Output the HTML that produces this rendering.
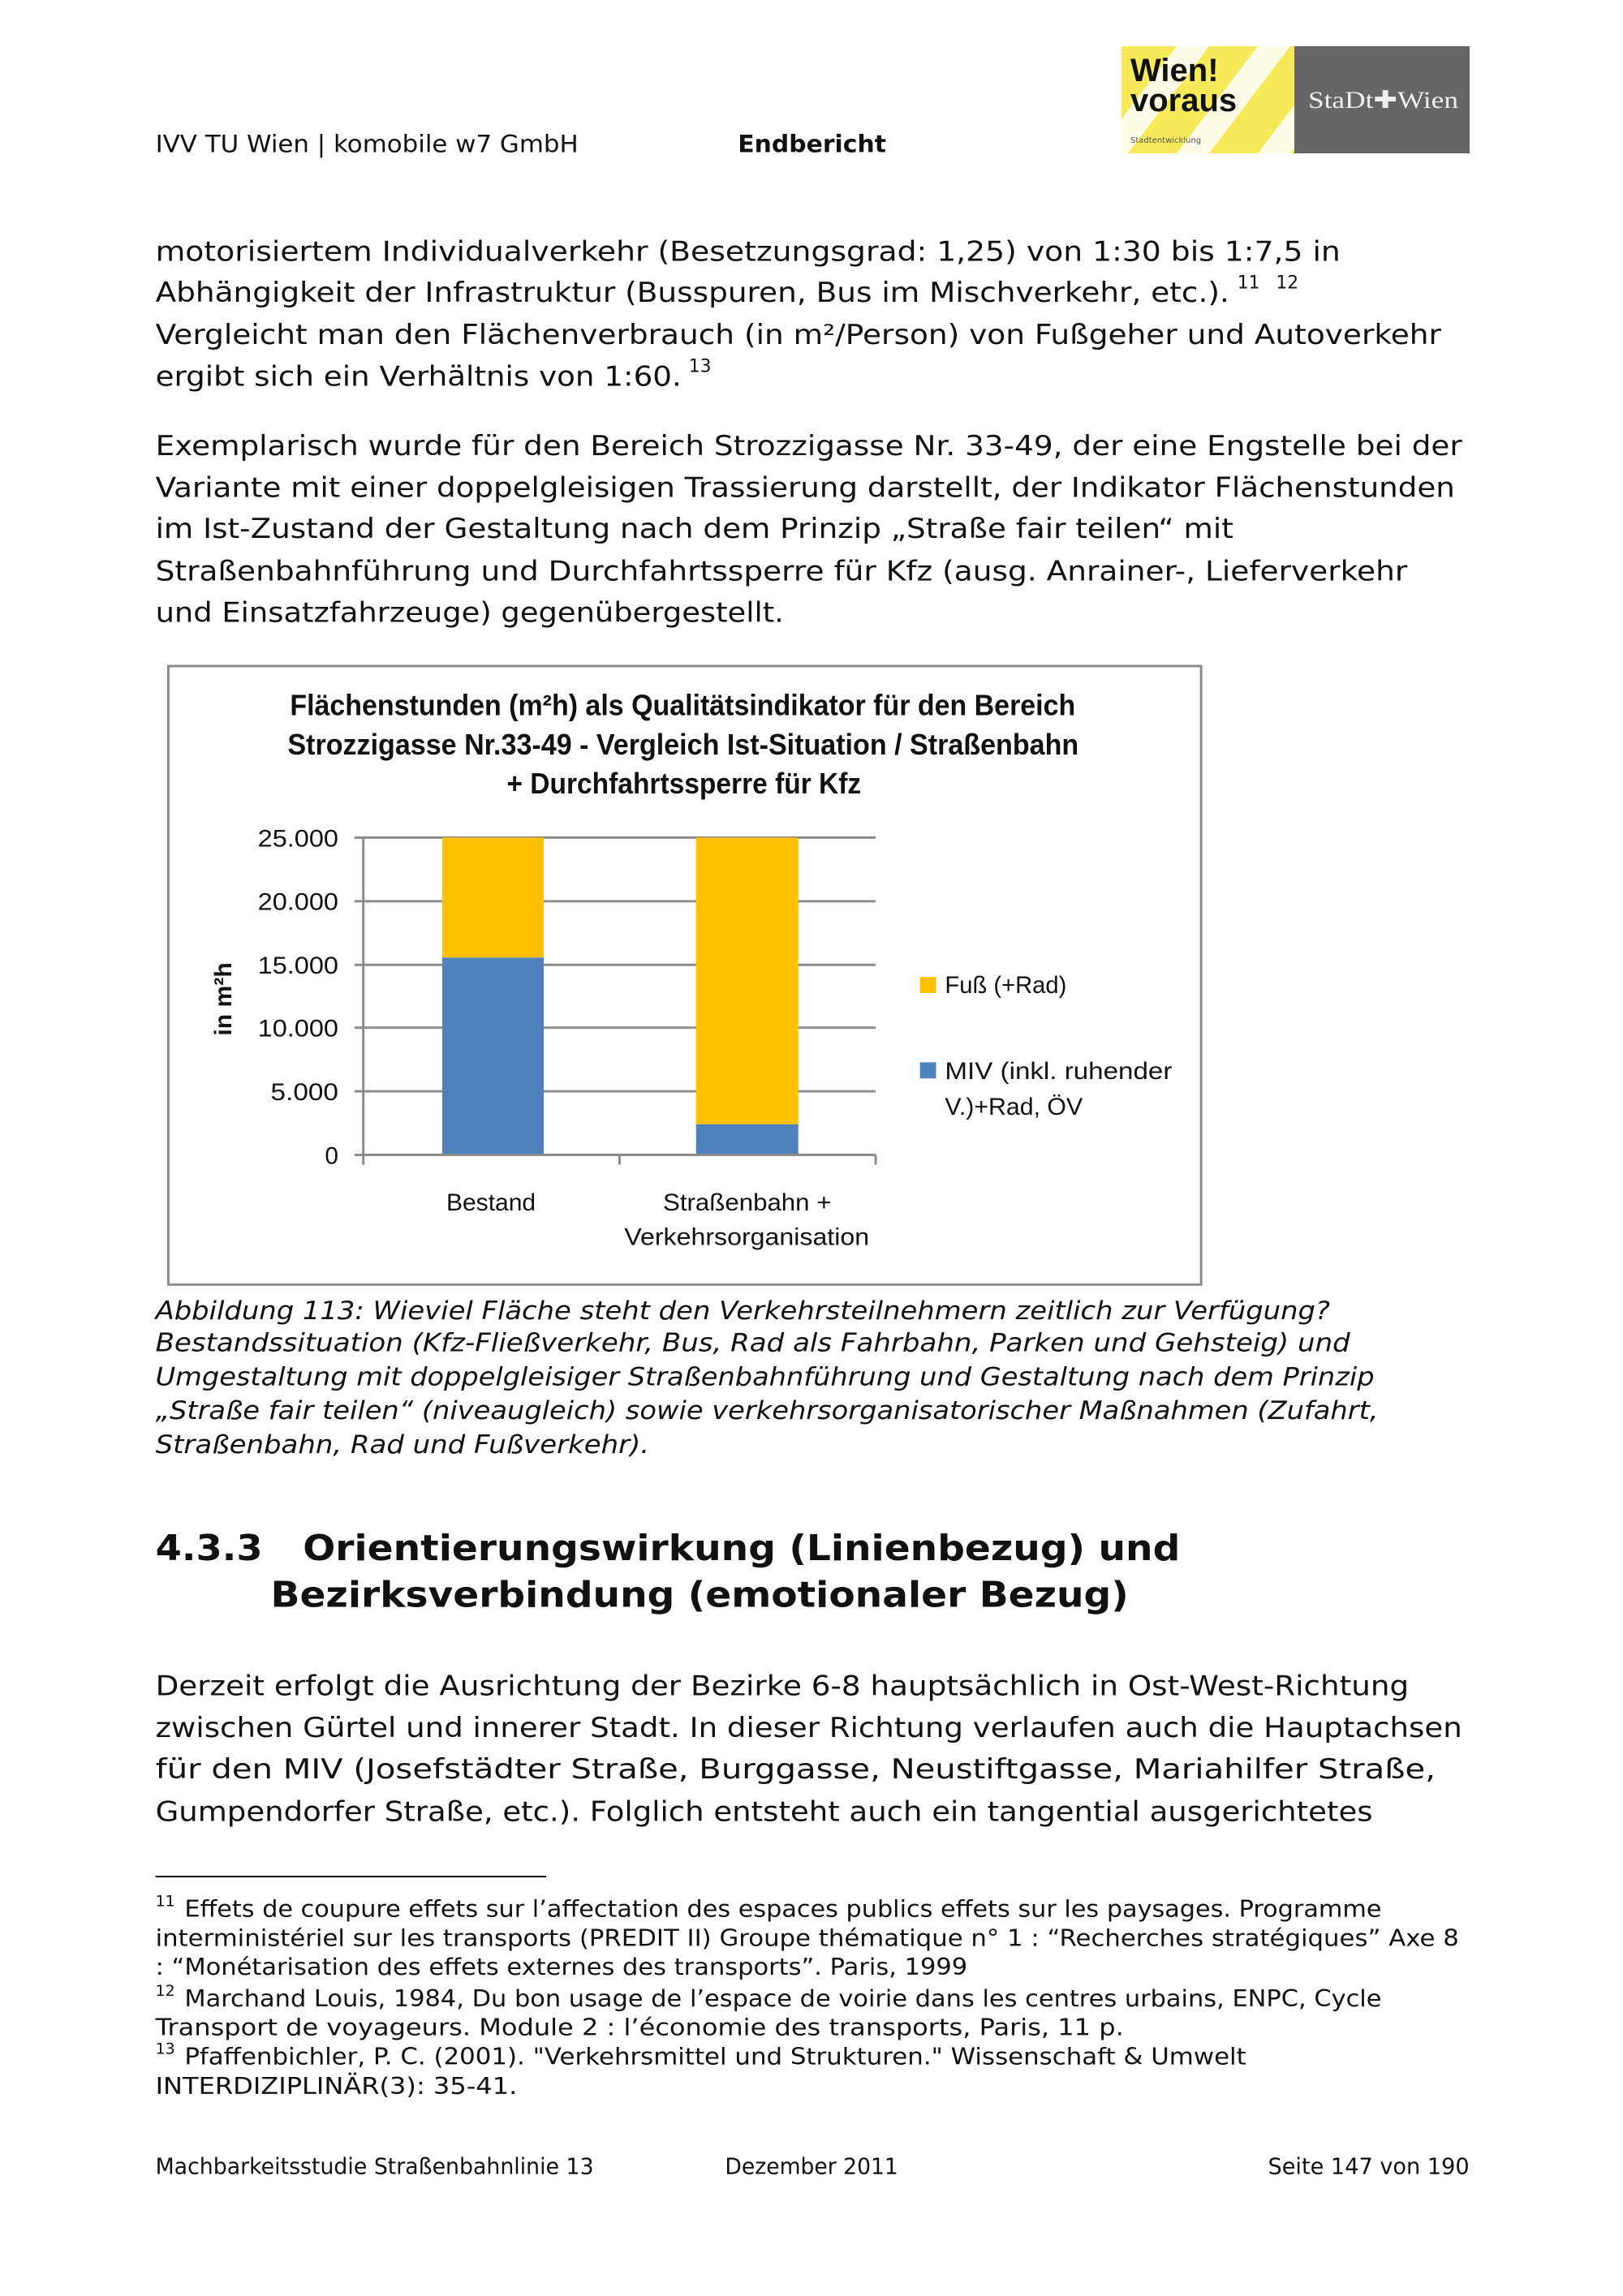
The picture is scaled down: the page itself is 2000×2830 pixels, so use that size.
<!DOCTYPE html>
<html><head><meta charset="utf-8"><style>html,body{margin:0;padding:0;background:#fff}svg{display:block}</style></head><body>
<svg width="2000" height="2830" viewBox="0 0 2000 2830" xmlns="http://www.w3.org/2000/svg" font-family="'DejaVu Sans','Liberation Sans',sans-serif" fill="#111">
<defs><clipPath id="lc"><rect x="1382" y="57" width="213" height="132"/></clipPath></defs>
<!-- logo (unscaled, absolute coords) -->
<rect x="1382" y="57" width="213" height="132" fill="#f7ea5a"/>
<g clip-path="url(#lc)" fill="#fdfbe6">
<polygon points="1450,189 1490,189 1590,57 1550,57"/><polygon points="1350,189 1390,189 1490,57 1450,57"/><polygon points="1550,189 1590,189 1690,57 1650,57"/>
</g>
<text x="1393" y="100" font-size="40" font-weight="bold" font-family="'Liberation Sans',sans-serif">Wien!</text>
<text x="1393" y="137" font-size="40" font-weight="bold" font-family="'Liberation Sans',sans-serif">voraus</text>
<text x="1393" y="176" font-size="10" fill="#555">Stadtentwicklung</text>
<rect x="1595" y="57" width="216" height="132" fill="#666"/>
<text x="1612" y="133" font-size="30" fill="#eee" font-family="'Liberation Serif',serif" textLength="185" lengthAdjust="spacingAndGlyphs">StaDt✚Wien</text>
<g transform="scale(0.9927)">
<!-- header -->
<text x="193" y="189" font-size="30" textLength="525" lengthAdjust="spacingAndGlyphs">IVV TU Wien | komobile w7 GmbH</text>
<text x="916" y="189" font-size="30" font-weight="bold" textLength="184" lengthAdjust="spacingAndGlyphs">Endbericht</text>
<!-- body 1 -->
<g font-size="34">
<text x="193" y="324" textLength="1471" lengthAdjust="spacingAndGlyphs">motorisiertem Individualverkehr (Besetzungsgrad: 1,25) von 1:30 bis 1:7,5 in</text>
<text x="193" y="375" textLength="1333" lengthAdjust="spacingAndGlyphs">Abhängigkeit der Infrastruktur (Busspuren, Bus im Mischverkehr, etc.).</text>
<text x="1536" y="358" font-size="22">11</text><text x="1584" y="358" font-size="22">12</text>
<text x="193" y="427" textLength="1596" lengthAdjust="spacingAndGlyphs">Vergleicht man den Flächenverbrauch (in m²/Person) von Fußgeher und Autoverkehr</text>
<text x="193" y="479" textLength="653" lengthAdjust="spacingAndGlyphs">ergibt sich ein Verhältnis von 1:60.</text>
<text x="855" y="462" font-size="22">13</text>
<text x="193" y="565" textLength="1622" lengthAdjust="spacingAndGlyphs">Exemplarisch wurde für den Bereich Strozzigasse Nr. 33-49, der eine Engstelle bei der</text>
<text x="193" y="617" textLength="1613" lengthAdjust="spacingAndGlyphs">Variante mit einer doppelgleisigen Trassierung darstellt, der Indikator Flächenstunden</text>
<text x="193" y="668" textLength="1338" lengthAdjust="spacingAndGlyphs">im Ist-Zustand der Gestaltung nach dem Prinzip „Straße fair teilen“ mit</text>
<text x="193" y="721" textLength="1554" lengthAdjust="spacingAndGlyphs">Straßenbahnführung und Durchfahrtssperre für Kfz (ausg. Anrainer-, Lieferverkehr</text>
<text x="193" y="772" textLength="780" lengthAdjust="spacingAndGlyphs">und Einsatzfahrzeuge) gegenübergestellt.</text>
</g>
<!-- chart -->
<rect x="209" y="827" width="1282" height="768" fill="#fff" stroke="#8c8c8c" stroke-width="3"/>
<g font-family="'Liberation Sans',sans-serif">
<g font-weight="bold" font-size="36">
<text x="360" y="888" textLength="975" lengthAdjust="spacingAndGlyphs">Flächenstunden (m²h) als Qualitätsindikator für den Bereich</text>
<text x="357" y="937" textLength="982" lengthAdjust="spacingAndGlyphs">Strozzigasse Nr.33-49 - Vergleich Ist-Situation /  Straßenbahn</text>
<text x="629" y="985" textLength="440" lengthAdjust="spacingAndGlyphs">+ Durchfahrtssperre für Kfz</text>
</g>
<g stroke="#8c8c8c" stroke-width="3">
<line x1="451" y1="1040" x2="1087" y2="1040"/><line x1="451" y1="1119" x2="1087" y2="1119"/><line x1="451" y1="1198" x2="1087" y2="1198"/><line x1="451" y1="1276" x2="1087" y2="1276"/><line x1="451" y1="1355" x2="1087" y2="1355"/>
</g>
<rect x="549" y="1040" width="126" height="149" fill="#ffc000"/>
<rect x="549" y="1189" width="126" height="245" fill="#4f81bd"/>
<rect x="864" y="1040" width="127" height="356" fill="#ffc000"/>
<rect x="864" y="1396" width="127" height="38" fill="#4f81bd"/>
<g stroke="#8c8c8c" stroke-width="3">
<line x1="451" y1="1040" x2="451" y2="1446"/><line x1="440" y1="1434" x2="1087" y2="1434"/>
<line x1="769" y1="1434" x2="769" y2="1446"/><line x1="1087" y1="1434" x2="1087" y2="1446"/>
<line x1="440" y1="1040" x2="451" y2="1040"/><line x1="440" y1="1119" x2="451" y2="1119"/><line x1="440" y1="1198" x2="451" y2="1198"/><line x1="440" y1="1276" x2="451" y2="1276"/><line x1="440" y1="1355" x2="451" y2="1355"/>
</g>
<g font-size="30" text-anchor="end">
<text x="420" y="1051" textLength="100" lengthAdjust="spacingAndGlyphs">25.000</text>
<text x="420" y="1130" textLength="100" lengthAdjust="spacingAndGlyphs">20.000</text>
<text x="420" y="1209" textLength="100" lengthAdjust="spacingAndGlyphs">15.000</text>
<text x="420" y="1287" textLength="100" lengthAdjust="spacingAndGlyphs">10.000</text>
<text x="420" y="1366" textLength="84" lengthAdjust="spacingAndGlyphs">5.000</text>
<text x="420" y="1445">0</text>
</g>
<text transform="translate(287,1286) rotate(-90)" font-size="30" font-weight="bold" textLength="91" lengthAdjust="spacingAndGlyphs">in m²h</text>
<g font-size="30">
<text x="554" y="1503" textLength="111" lengthAdjust="spacingAndGlyphs">Bestand</text>
<text x="823" y="1503" textLength="209" lengthAdjust="spacingAndGlyphs">Straßenbahn +</text>
<text x="775" y="1546" textLength="304" lengthAdjust="spacingAndGlyphs">Verkehrsorganisation</text>
<rect x="1142" y="1213" width="20" height="20" fill="#ffc000"/>
<text x="1173" y="1233" textLength="151" lengthAdjust="spacingAndGlyphs">Fuß (+Rad)</text>
<rect x="1142" y="1319" width="20" height="20" fill="#4f81bd"/>
<text x="1173" y="1340" textLength="282" lengthAdjust="spacingAndGlyphs">MIV (inkl. ruhender</text>
<text x="1173" y="1384" textLength="171" lengthAdjust="spacingAndGlyphs">V.)+Rad, ÖV</text>
</g>
</g>
<!-- caption -->
<g font-size="31" font-style="italic">
<text x="193" y="1638" textLength="1458" lengthAdjust="spacingAndGlyphs">Abbildung 113: Wieviel Fläche steht den Verkehrsteilnehmern zeitlich zur Verfügung?</text>
<text x="193" y="1678" textLength="1483" lengthAdjust="spacingAndGlyphs">Bestandssituation (Kfz-Fließverkehr, Bus, Rad als Fahrbahn, Parken und Gehsteig) und</text>
<text x="193" y="1720" textLength="1513" lengthAdjust="spacingAndGlyphs">Umgestaltung mit doppelgleisiger Straßenbahnführung und Gestaltung nach dem Prinzip</text>
<text x="193" y="1762" textLength="1518" lengthAdjust="spacingAndGlyphs">„Straße fair teilen“ (niveaugleich) sowie verkehrsorganisatorischer Maßnahmen (Zufahrt,</text>
<text x="193" y="1804" textLength="613" lengthAdjust="spacingAndGlyphs">Straßenbahn, Rad und Fußverkehr).</text>
</g>
<!-- heading -->
<g font-size="44" font-weight="bold">
<text x="193" y="1937" textLength="133" lengthAdjust="spacingAndGlyphs">4.3.3</text>
<text x="376" y="1937" textLength="1089" lengthAdjust="spacingAndGlyphs">Orientierungswirkung (Linienbezug) und</text>
<text x="336" y="1995" textLength="1065" lengthAdjust="spacingAndGlyphs">Bezirksverbindung (emotionaler Bezug)</text>
</g>
<g font-size="34">
<text x="193" y="2105" textLength="1556" lengthAdjust="spacingAndGlyphs">Derzeit erfolgt die Ausrichtung der Bezirke 6-8 hauptsächlich in Ost-West-Richtung</text>
<text x="193" y="2157" textLength="1622" lengthAdjust="spacingAndGlyphs">zwischen Gürtel und innerer Stadt. In dieser Richtung verlaufen auch die Hauptachsen</text>
<text x="193" y="2208" textLength="1589" lengthAdjust="spacingAndGlyphs">für den MIV (Josefstädter Straße, Burggasse, Neustiftgasse, Mariahilfer Straße,</text>
<text x="193" y="2261" textLength="1511" lengthAdjust="spacingAndGlyphs">Gumpendorfer Straße, etc.). Folglich entsteht auch ein tangential ausgerichtetes</text>
</g>
<line x1="193" y1="2330" x2="678" y2="2330" stroke="#111" stroke-width="2"/>
<g font-size="29">
<text x="193" y="2367" font-size="19">11</text>
<text x="229" y="2380" textLength="1486" lengthAdjust="spacingAndGlyphs">Effets de coupure effets sur l’affectation des espaces publics effets sur les paysages. Programme</text>
<text x="193" y="2416" textLength="1618" lengthAdjust="spacingAndGlyphs">interministériel sur les transports (PREDIT II) Groupe thématique n° 1 : “Recherches stratégiques” Axe 8</text>
<text x="193" y="2452" textLength="1008" lengthAdjust="spacingAndGlyphs">: “Monétarisation des effets externes des transports”. Paris, 1999</text>
<text x="193" y="2478" font-size="19">12</text>
<text x="229" y="2491" textLength="1486" lengthAdjust="spacingAndGlyphs">Marchand Louis, 1984, Du bon usage de l’espace de voirie dans les centres urbains, ENPC, Cycle</text>
<text x="193" y="2527" textLength="1202" lengthAdjust="spacingAndGlyphs">Transport de voyageurs. Module 2 : l’économie des transports, Paris, 11 p.</text>
<text x="193" y="2550" font-size="19">13</text>
<text x="229" y="2563" textLength="1318" lengthAdjust="spacingAndGlyphs">Pfaffenbichler, P. C. (2001). "Verkehrsmittel und Strukturen." Wissenschaft &amp; Umwelt</text>
<text x="193" y="2600" textLength="449" lengthAdjust="spacingAndGlyphs">INTERDIZIPLINÄR(3): 35-41.</text>
</g>
<g font-size="28">
<text x="193" y="2699" textLength="544" lengthAdjust="spacingAndGlyphs">Machbarkeitsstudie Straßenbahnlinie 13</text>
<text x="900" y="2699" textLength="215" lengthAdjust="spacingAndGlyphs">Dezember 2011</text>
<text x="1574" y="2699" textLength="250" lengthAdjust="spacingAndGlyphs">Seite 147 von 190</text>
</g>
</g>
</svg>
</body></html>
